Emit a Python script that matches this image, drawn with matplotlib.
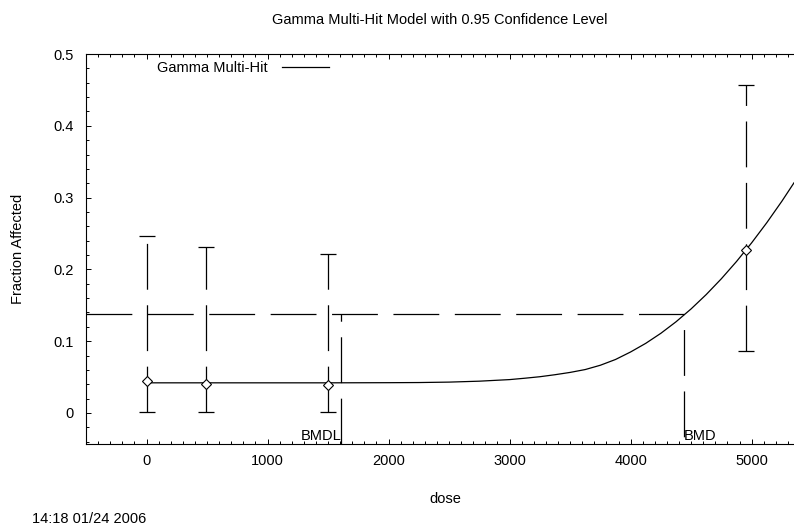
import matplotlib
matplotlib.use("Agg")
import matplotlib.pyplot as plt

plt.rcParams['font.family'] = ['Liberation Sans', 'DejaVu Sans']
plt.rcParams['font.size'] = 10.5
plt.rcParams['lines.scale_dashes'] = False

# observed data with confidence limits
dose = [0, 490, 1500, 4950]
frac = [0.045, 0.041, 0.039, 0.227]
lower = [0.002, 0.002, 0.002, 0.086]
upper = [0.247, 0.231, 0.222, 0.457]

# fitted gamma multi-hit curve
fit_dose = [0, 500, 1000, 1500, 2000, 2250, 2500, 2750, 3000, 3125, 3250, 3375,
            3500, 3625, 3750, 3875, 4000, 4125, 4250, 4375, 4500, 4625, 4750,
            4875, 5000, 5125, 5250, 5350]
fit_frac = [0.042, 0.042, 0.042, 0.042, 0.0422, 0.0424, 0.043, 0.0443, 0.0465,
            0.0484, 0.0505, 0.0533, 0.0565, 0.0605, 0.0665, 0.0745, 0.085, 0.097,
            0.111, 0.127, 0.145, 0.165, 0.187, 0.211, 0.237, 0.265, 0.295, 0.3206]

bmr = 0.1375
bmdl = 1607
bmd = 4441

x_ticks = [0, 1000, 2000, 3000, 4000, 5000]
x_tick_labels = ['0', '1000', '2000', '3000', '4000', '5000']
y_ticks = [0, 0.1, 0.2, 0.3, 0.4, 0.5]
y_tick_labels = ['0', '0.1', '0.2', '0.3', '0.4', '0.5']

W, H = 794, 527
xmin, xmax = -500, 5350
ymin, ymax = -0.0432, 0.5
dash = (33, 11.2)

fig = plt.figure(figsize=(W / 100, H / 100), dpi=100)
ax = fig.add_axes([86 / W, 1 - 444 / H, (W - 86) / W, (444 - 54) / H])

ax.plot(fit_dose, fit_frac, color='black', lw=0.9, label='Gamma Multi-Hit', zorder=2)

eb = ax.errorbar(dose, frac, yerr=[[f - l for f, l in zip(frac, lower)],
                                   [u - f for f, u in zip(frac, upper)]],
                 fmt='none', ecolor='black', elinewidth=0.9, capsize=5.75,
                 capthick=0.9, zorder=1)
for c in eb[2]:
    c.set_linestyle((0, dash))

ax.plot(dose, frac, ls='none', marker='D', ms=5.5, mfc='white', mec='black',
        mew=0.8, zorder=3)

# benchmark lines
ax.plot([xmin, bmd], [bmr, bmr], color='black', lw=0.9, ls=(0, dash))
ax.plot([bmdl, bmdl], [ymin, bmr], color='black', lw=0.9, ls=(0, dash))
ax.plot([bmd, bmd], [bmr, ymin], color='black', lw=0.9, ls=(33, dash))

ax.annotate('BMDL', xy=(bmdl, ymin), xytext=(0, 3), textcoords='offset points',
            ha='right', va='baseline')
ax.annotate('BMD', xy=(bmd, ymin), xytext=(0, 3), textcoords='offset points',
            ha='left', va='baseline')

ax.set_xlim(xmin, xmax)
ax.set_ylim(ymin, ymax)
ax.set_xticks(x_ticks)
ax.set_xticklabels(x_tick_labels)
ax.set_yticks(y_ticks)
ax.set_yticklabels(y_tick_labels)
ax.set_xticks(range(-500, 5400, 100), minor=True)
ax.set_yticks([i * 0.02 for i in range(-2, 26)], minor=True)
ax.tick_params(which='both', direction='in', top=True, right=False, width=0.7)
ax.tick_params(which='major', length=3.5)
ax.tick_params(which='minor', length=2)
ax.tick_params(axis='y', pad=8.6)
ax.tick_params(axis='x', pad=7)
ax.spines['right'].set_visible(False)
for s in ['left', 'top', 'bottom']:
    ax.spines[s].set_linewidth(0.8)

ax.legend(loc='center left', bbox_to_anchor=(156.7 / W, 1 - 68 / H),
          bbox_transform=fig.transFigure, frameon=False, markerfirst=False,
          borderpad=0, borderaxespad=0, handlelength=3.2, handletextpad=1.0)

fig.text(440 / W, 1 - 20 / H, 'Gamma Multi-Hit Model with 0.95 Confidence Level',
         ha='center', va='center')
fig.text(18 / W, 1 - 249 / H, 'Fraction Affected', rotation=90,
         ha='center', va='center')
fig.text(445 / W, 1 - 499 / H, 'dose', ha='center', va='center')
fig.text(32 / W, 1 - 519 / H, '14:18 01/24 2006', ha='left', va='center')

fig.savefig('out.png', dpi=100)
